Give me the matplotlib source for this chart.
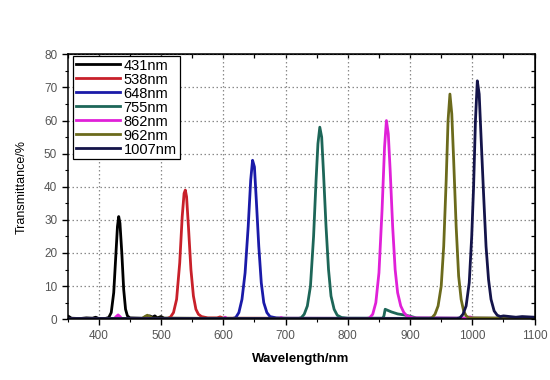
import matplotlib
matplotlib.use("Agg")
import matplotlib.pyplot as plt
from matplotlib.ticker import MultipleLocator

plt.rcParams['font.family'] = ['Liberation Sans', 'DejaVu Sans']

# data (wavelength nm, transmittance %)
wl_431 = [350, 352, 356, 370, 380, 390, 395, 400, 410, 416, 420, 424, 427, 430, 432, 434, 437, 440, 443, 446, 450,
          470, 478, 482, 486, 490, 494, 500, 505, 600, 800, 1100]
tr_431 = [1.0, 0.8, 0.3, 0.2, 0.4, 0.3, 0.6, 0.2, 0.2, 0.5, 2, 8, 18, 28, 31, 29, 20, 9, 3, 1, 0.4,
          0.3, 0.8, 1.0, 0.6, 1.0, 0.4, 0.8, 0.3, 0.2, 0.2, 0.2]

wl_538 = [350, 510, 515, 520, 525, 530, 534, 537, 539, 541, 544, 548, 552, 556, 560, 565, 575, 590, 595, 600, 1100]
tr_538 = [0.2, 0.2, 0.6, 2, 6, 17, 31, 38, 39, 37, 28, 15, 7, 3, 1.5, 0.8, 0.4, 0.4, 0.7, 0.3, 0.2]

wl_648 = [350, 615, 620, 625, 630, 635, 640, 644, 647, 650, 653, 657, 661, 665, 670, 675, 685, 700, 1100]
tr_648 = [0.2, 0.2, 0.5, 2, 6, 14, 28, 42, 48, 46, 36, 22, 11, 5, 2, 0.8, 0.4, 0.3, 0.2]

wl_755 = [350, 720, 725, 730, 735, 740, 745, 749, 752, 755, 758, 761, 765, 769, 773, 778, 783, 790, 800,
          856, 858, 860, 865, 870, 880, 890, 900, 910, 1100]
tr_755 = [0.2, 0.2, 0.4, 1.5, 4, 10, 25, 42, 53, 58, 55, 44, 28, 15, 7, 3, 1.2, 0.5, 0.3,
          0.3, 1.0, 3.0, 2.6, 2.2, 1.6, 1.3, 0.9, 0.4, 0.2]

wl_862 = [350, 425, 428, 431, 434, 437, 600, 603, 606, 690, 693, 696, 830, 835, 840, 845, 850, 855, 859, 862, 865,
          868, 872, 876, 880, 885, 890, 895, 905, 990, 996, 1002, 1100]
tr_862 = [0.2, 0.2, 0.8, 1.3, 0.8, 0.2, 0.2, 0.6, 0.2, 0.2, 0.5, 0.2, 0.2, 0.4, 1.5, 5, 14, 33, 52, 60, 56,
          45, 28, 15, 8, 4, 2, 1, 0.4, 0.3, 0.7, 0.3, 0.2]

wl_962 = [350, 470, 474, 478, 482, 486, 930, 935, 940, 945, 950, 954, 958, 961, 964, 967, 970, 974, 978,
          982, 986, 990, 995, 1100]
tr_962 = [0.2, 0.2, 0.8, 1.2, 0.8, 0.3, 0.2, 0.4, 1.5, 4, 10, 22, 42, 60, 68, 62, 48, 28, 13,
          6, 2.5, 1, 0.4, 0.3]

wl_1007 = [350, 975, 980, 985, 990, 995, 999, 1002, 1005, 1008, 1011, 1014, 1018, 1022, 1026, 1030, 1035,
           1040, 1045, 1050, 1060, 1070, 1080, 1100]
tr_1007 = [0.2, 0.2, 0.4, 1.5, 4, 11, 25, 40, 60, 72, 68, 55, 38, 22, 12, 6, 2.5,
           1.2, 0.8, 1.0, 0.8, 0.6, 0.8, 0.6]

labels = ['431nm', '538nm', '648nm', '755nm', '862nm', '962nm', '1007nm']
colors = ['#000000', '#c8202a', '#1a1aa8', '#1d6658', '#e020d8', '#6b6a1c', '#14144a']
series = [(wl_431, tr_431), (wl_538, tr_538), (wl_648, tr_648), (wl_755, tr_755),
          (wl_862, tr_862), (wl_962, tr_962), (wl_1007, tr_1007)]

fig = plt.figure(figsize=(5.5, 3.8), dpi=100)
ax = fig.add_axes([0.123, 0.16, 0.849, 0.697])

for (x, y), lab, c in zip(series, labels, colors):
    ax.plot(x, y, color=c, lw=2.0, label=lab)

ax.set_xlim(350, 1100)
ax.set_ylim(0, 80)
ax.xaxis.set_major_locator(MultipleLocator(100))
ax.xaxis.set_minor_locator(MultipleLocator(50))
ax.yaxis.set_major_locator(MultipleLocator(10))
ax.yaxis.set_minor_locator(MultipleLocator(5))
ax.grid(True, which='major', color='#8a8a8a', linestyle=(0, (1.2, 2)), lw=0.9)
ax.tick_params(which='major', direction='out', length=4, width=1, labelsize=8.5, labelcolor='#555555')
ax.tick_params(which='minor', direction='out', length=2.5, width=0.8)
for s in ax.spines.values():
    s.set_linewidth(1.1)

top = ax.secondary_xaxis('top')
top.xaxis.set_major_locator(MultipleLocator(100))
top.xaxis.set_minor_locator(MultipleLocator(50))
top.tick_params(which='both', direction='in', labeltop=False, length=3, width=0.9)
right = ax.secondary_yaxis('right')
right.yaxis.set_major_locator(MultipleLocator(10))
right.yaxis.set_minor_locator(MultipleLocator(5))
right.tick_params(which='both', direction='in', labelright=False, length=3, width=0.9)

ax.set_xlabel('Wavelength/nm', fontsize=9.5, fontweight='bold', labelpad=8)
ax.set_ylabel('Transmittance/%', fontsize=9, labelpad=12)

leg = ax.legend(loc='upper left', bbox_to_anchor=(0.012, 0.995), fontsize=10.5, handlelength=3.0,
                labelspacing=0.0, handletextpad=0.25, borderpad=0.2, borderaxespad=0.0,
                fancybox=False, framealpha=1, edgecolor='black')
leg.get_frame().set_linewidth(0.9)

fig.savefig('out.png', dpi=100)
